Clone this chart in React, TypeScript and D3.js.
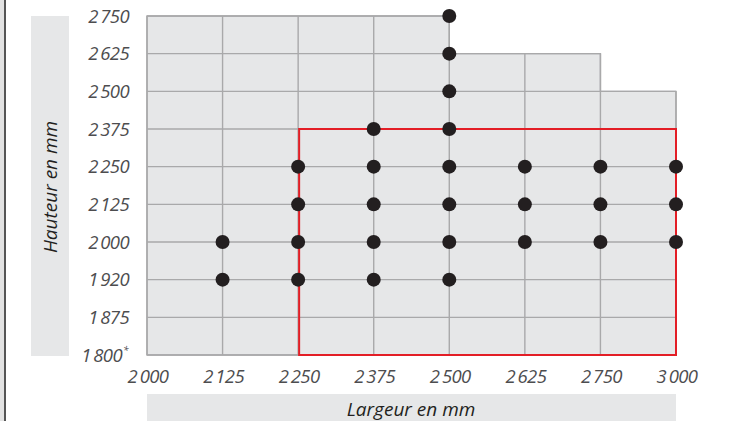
import React from "react";
import * as d3 from "d3";

const xCategories = ["2000", "2125", "2250", "2375", "2500", "2625", "2750", "3000"];
const xTickLabels = ["2\u2009000", "2\u2009125", "2\u2009250", "2\u2009375", "2\u2009500", "2\u2009625", "2\u2009750", "3\u2009000"];
const yCategories = ["1800", "1875", "1920", "2000", "2125", "2250", "2375", "2500", "2625", "2750"];
const yTickLabels = ["1\u2009800", "1\u2009875", "1\u2009920", "2\u2009000", "2\u2009125", "2\u2009250", "2\u2009375", "2\u2009500", "2\u2009625", "2\u2009750"];
// top of the grey grid for each width column (segment ending at this column)
const columnTop = ["2750", "2750", "2750", "2750", "2750", "2625", "2625", "2500"];
// available heights per width
const availableWidths = ["2125", "2250", "2375", "2500", "2625", "2750", "3000"];
const availableHeights = [
  ["2000", "1920"],
  ["2250", "2125", "2000", "1920"],
  ["2375", "2250", "2125", "2000", "1920"],
  ["2750", "2625", "2500", "2375", "2250", "2125", "2000", "1920"],
  ["2250", "2125", "2000"],
  ["2250", "2125", "2000"],
  ["2250", "2125", "2000"],
];
// highlighted range
const redRect = { x0: "2250", x1: "3000", y0: "1800", y1: "2375" };

export default function App() {
  const x = d3.scalePoint<string>().domain(xCategories).range([147, 676]);
  const y = d3.scalePoint<string>().domain(yCategories).range([355, 16]);
  const yIdx = (v: string) => yCategories.indexOf(v);

  // grey polygon
  const pts: [number, number][] = [];
  pts.push([x(xCategories[0])!, y("1800")!]);
  pts.push([x(xCategories[0])!, y(columnTop[0])!]);
  for (let i = 1; i < xCategories.length; i++) {
    const prevTop = columnTop[i - 1];
    const top = columnTop[i];
    const xi = x(xCategories[i])!;
    const xp = x(xCategories[i - 1])!;
    if (top !== prevTop) {
      pts.push([xp, y(prevTop)!]);
      pts.push([xp, y(top)!]);
    }
    pts.push([xi, y(top)!]);
  }
  pts.push([x(xCategories[xCategories.length - 1])!, y("1800")!]);
  const polyPath = d3.line()(pts) + "Z";

  const gridColor = "#a9a9aa";
  const vLines = xCategories.map((c, i) => {
    const left = columnTop[i];
    const right = i + 1 < columnTop.length ? columnTop[i + 1] : columnTop[i];
    const top = yIdx(left) >= yIdx(right) ? left : right;
    return { x: x(c)!, y1: y("1800")!, y2: y(top)! };
  });
  const hLines = yCategories.map((yc) => {
    let last = 0;
    xCategories.forEach((_, i) => {
      if (yIdx(columnTop[i]) >= yIdx(yc)) last = i;
    });
    return { y: y(yc)!, x1: x(xCategories[0])!, x2: x(xCategories[last])! };
  });

  const dots: { cx: number; cy: number }[] = [];
  availableWidths.forEach((w, i) => {
    availableHeights[i].forEach((h) => dots.push({ cx: x(w)!, cy: y(h)! }));
  });

  const tickFont = "'Open Sans', 'DejaVu Sans', sans-serif";

  return (
    <svg
      width={731}
      height={421}
      style={{ position: "absolute", left: 0, top: 0, background: "#fff" }}
    >
      <rect x={0} y={0} width={4} height={421} fill="#e2e2e2" />
      <rect x={4} y={0} width={2} height={421} fill="#555" />

      {/* axis title boxes */}
      <rect x={31} y={16} width={38} height={340} fill="#e6e7e8" />
      <text
        transform={`translate(57,${187}) rotate(-90)`}
        textAnchor="middle"
        fontFamily={tickFont}
        fontStyle="italic"
        fontSize={19}
        fill="#231f20"
      >
        Hauteur en mm
      </text>
      <rect x={147} y={394} width={529} height={27} fill="#e6e7e8" />
      <text
        x={411}
        y={416}
        textAnchor="middle"
        fontFamily={tickFont}
        fontStyle="italic"
        fontSize={19}
        fill="#231f20"
      >
        Largeur en mm
      </text>

      {/* grid */}
      <path d={polyPath} fill="#e6e7e8" stroke={gridColor} strokeWidth={1.4} />
      {vLines.map((l, i) => (
        <line key={"v" + i} x1={l.x} x2={l.x} y1={l.y1} y2={l.y2} stroke={gridColor} strokeWidth={1.4} />
      ))}
      {hLines.map((l, i) => (
        <line key={"h" + i} x1={l.x1} x2={l.x2} y1={l.y} y2={l.y} stroke={gridColor} strokeWidth={1.4} />
      ))}

      {/* red highlight */}
      <rect
        x={x(redRect.x0)! + 1}
        y={y(redRect.y1)!}
        width={x(redRect.x1)! - x(redRect.x0)! - 1}
        height={y(redRect.y0)! - y(redRect.y1)!}
        fill="none"
        stroke="#e31e26"
        strokeWidth={2}
      />

      {/* dots */}
      {dots.map((d, i) => (
        <circle key={"d" + i} cx={d.cx} cy={d.cy} r={7} fill="#231f20" />
      ))}

      {/* y tick labels */}
      {yCategories.map((c, i) => (
        <text
          key={"yt" + i}
          x={c === "1800" ? 122 : 129}
          y={y(c)! + 6.5}
          textAnchor="end"
          fontFamily={tickFont}
          fontStyle="italic"
          fontSize={18.5}
          letterSpacing={-0.6}
          fill="#4d4d4f"
        >
          {yTickLabels[i]}
        </text>
      ))}
      <text
        x={123}
        y={y("1800")! - 1}
        fontFamily={tickFont}
        fontStyle="italic"
        fontSize={10}
        fill="#4d4d4f"
      >
        *
      </text>

      {/* x tick labels */}
      {xCategories.map((c, i) => (
        <text
          key={"xt" + i}
          x={x(c)! + 1}
          y={383}
          textAnchor="middle"
          fontFamily={tickFont}
          fontStyle="italic"
          fontSize={18.5}
          letterSpacing={-0.6}
          fill="#4d4d4f"
        >
          {xTickLabels[i]}
        </text>
      ))}
    </svg>
  );
}
